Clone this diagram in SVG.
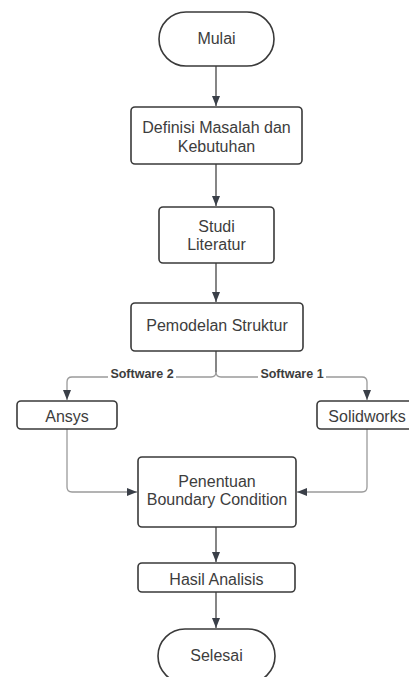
<svg xmlns="http://www.w3.org/2000/svg" width="409" height="677" viewBox="0 0 409 677">
<defs>
<style>
.box{fill:#fff;stroke:#3a3a3a;stroke-width:1.6}
.t{font-family:"Liberation Sans",Arial,sans-serif;font-size:16px;fill:#3d3d3d;text-anchor:middle;dominant-baseline:central}
.lbl{font-family:"Liberation Sans",Arial,sans-serif;font-size:12.5px;font-weight:bold;fill:#3d3d3d;text-anchor:middle;dominant-baseline:central}
.c{fill:none;stroke:#444;stroke-width:1.3}
.g{fill:none;stroke:#9a9a9a;stroke-width:1.3}
</style>
<marker id="ah" viewBox="0 0 10 10" refX="10" refY="5" markerWidth="10" markerHeight="10" markerUnits="userSpaceOnUse" orient="auto">
<path d="M0,1 L10,5 L0,9 Z" fill="#3a3f48"/>
</marker>
</defs>
<rect width="409" height="677" fill="#fff"/>
<g id="connectors">
<path class="c" d="M216,66 V106" marker-end="url(#ah)"/>
<path class="c" d="M216,164 V206" marker-end="url(#ah)"/>
<path class="c" d="M216,263 V302" marker-end="url(#ah)"/>
<path class="c" d="M216,351 V372"/>
<path class="g" d="M216,372 Q216,377 211,377 H72 Q67,377 67,382 V400" marker-end="url(#ah)"/>
<path class="g" d="M216,372 Q216,377 221,377 H362 Q367,377 367,382 V400" marker-end="url(#ah)"/>
<rect x="108" y="366" width="68" height="16" fill="#fff"/>
<rect x="258" y="366" width="68" height="16" fill="#fff"/>
<text class="lbl" x="142" y="374">Software 2</text>
<text class="lbl" x="292" y="374">Software 1</text>
<path class="g" d="M67,429 V487 Q67,492 72,492 H137" marker-end="url(#ah)"/>
<path class="g" d="M367,429 V487 Q367,492 362,492 H297" marker-end="url(#ah)"/>
<path class="c" d="M216,527 V562" marker-end="url(#ah)"/>
<path class="c" d="M216,592 V628" marker-end="url(#ah)"/>
</g>
<g id="mulai">
<rect class="box" x="159" y="12" width="115" height="54" rx="27"/>
<text class="t" x="216.5" y="38">Mulai</text>
</g>
<g id="definisi">
<rect class="box" x="131" y="107" width="171" height="57" rx="4"/>
<text class="t" x="216.5" y="127">Definisi Masalah dan</text>
<text class="t" x="216.5" y="146">Kebutuhan</text>
</g>
<g id="studi">
<rect class="box" x="159" y="207" width="115" height="56" rx="4"/>
<text class="t" x="216.5" y="226">Studi</text>
<text class="t" x="216.5" y="244">Literatur</text>
</g>
<g id="pemodelan">
<rect class="box" x="131" y="303" width="172" height="48" rx="4"/>
<text class="t" x="217" y="325">Pemodelan Struktur</text>
</g>
<g id="ansys">
<rect class="box" x="17" y="401" width="100" height="28" rx="4"/>
<text class="t" x="67" y="416">Ansys</text>
</g>
<g id="solidworks">
<rect class="box" x="317" y="401" width="100" height="28" rx="4"/>
<text class="t" x="367" y="416">Solidworks</text>
</g>
<g id="penentuan">
<rect class="box" x="138" y="457" width="158" height="70" rx="4"/>
<text class="t" x="217" y="481">Penentuan</text>
<text class="t" x="217" y="499">Boundary Condition</text>
</g>
<g id="hasil">
<rect class="box" x="138" y="563" width="157" height="29" rx="4"/>
<text class="t" x="216.5" y="579">Hasil Analisis</text>
</g>
<g id="selesai">
<rect class="box" x="158" y="629" width="117" height="54" rx="27"/>
<text class="t" x="216.5" y="655">Selesai</text>
</g>
</svg>
